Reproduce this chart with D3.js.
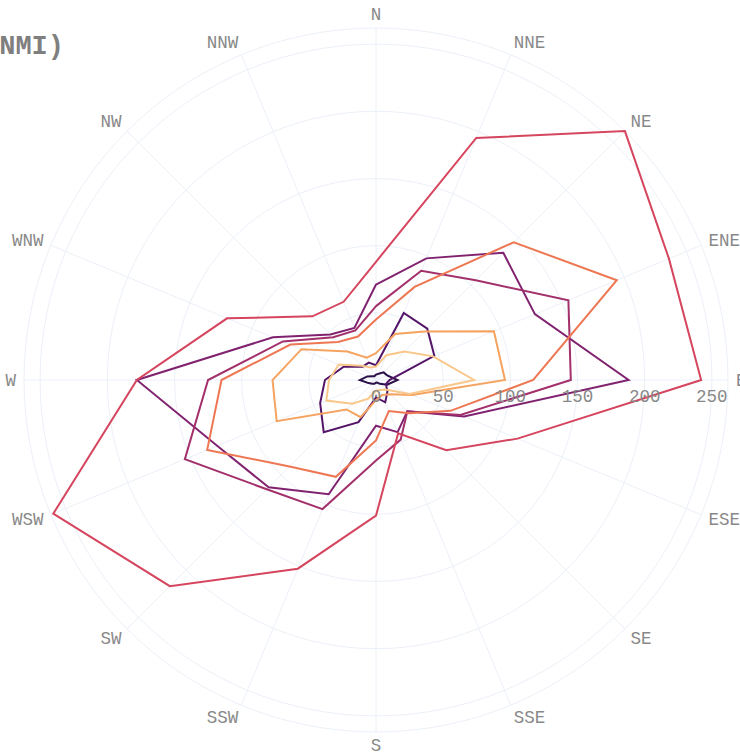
<!DOCTYPE html>
<html><head><meta charset="utf-8">
<script src="https://cdn.jsdelivr.net/npm/d3@7"></script>
<style>body{margin:0;background:#fff}svg{display:block}</style>
</head><body><svg id="chart" width="740" height="755"></svg>
<script>
const directions = ["N","NNE","NE","ENE","E","ESE","SE","SSE","S","SSW","SW","WSW","W","WNW","NW","NNW"];
const radialTicks = [0,50,100,150,200,250];
const seriesNames = ["0-1","1-2","2-3","3-4","4-5","5-6","6-7","7+"];
const seriesColors = ["#2a1149","#541568","#80226f","#a3306b","#d6455e","#ee7753","#f5a360","#f9c78a"];
const s1 = [4, 5, 8, 9, 16, 9, 4, 2, 2, 3, 4, 6, 12, 7, 4, 3];
const s2 = [11, 54, 54, 47, 10, 8, 12, 18, 13, 34, 55, 45, 38, 26, 14, 14];
const s3 = [71, 98, 134, 128, 188, 71, 33, 42, 34, 92, 113, 128, 178, 83, 48, 42];
const s4 = [55, 88, 105, 155, 145, 68, 33, 48, 60, 104, 115, 154, 125, 75, 45, 40];
const s5 = [88, 195, 262, 236, 242, 114, 74, 43, 101, 152, 217, 260, 178, 120, 67, 63];
const s6 = [45, 75, 145, 194, 117, 60, 35, 25, 45, 78, 91, 136, 115, 69, 40, 35];
const s7 = [20, 37, 51, 95, 96, 29, 15, 12, 15, 30, 31, 80, 77, 60, 30, 18];
const s8 = [10, 20, 30, 46, 73, 27, 10, 8, 8, 15, 25, 40, 35, 30, 15, 10];
const allSeries = [s1, s2, s3, s4, s5, s6, s7, s8];
const radialMax = 262;
const titleText = "Wind Rose (NMI)";

const svg = d3.select("#chart");
const cx = 376, cy = 380, R = 352;
const FONT = "'Liberation Mono', 'DejaVu Sans Mono', monospace";
const gridColor = "#ebf0f8";
const textColor = "#888888";

const r = d3.scaleLinear().domain([0, radialMax]).range([0, R]);
const ang = d3.scalePoint().domain(directions).range([0, 2 * Math.PI * (15 / 16)]);

const g = svg.append("g").attr("transform", `translate(${cx},${cy})`);

g.selectAll("circle.grid").data(radialTicks.filter(d => d > 0).concat([radialMax]))
  .join("circle").attr("class", "grid")
  .attr("r", d => r(d)).attr("fill", "none")
  .attr("stroke", gridColor).attr("stroke-width", 1);

g.selectAll("line.spoke").data(directions).join("line").attr("class", "spoke")
  .attr("x1", 0).attr("y1", 0)
  .attr("x2", d => R * Math.sin(ang(d)))
  .attr("y2", d => -R * Math.cos(ang(d)))
  .attr("stroke", gridColor).attr("stroke-width", 1);

const line = d3.lineRadial()
  .angle((d, i) => ang(directions[i]))
  .radius(d => r(d))
  .curve(d3.curveLinearClosed);

g.selectAll("path.series").data(allSeries).join("path").attr("class", "series")
  .attr("d", d => line(d))
  .attr("fill", "none")
  .attr("stroke", (d, i) => seriesColors[i])
  .attr("stroke-width", 2)
  .attr("stroke-linejoin", "miter");

g.selectAll("text.rtick").data(radialTicks).join("text").attr("class", "rtick")
  .attr("x", d => r(d)).attr("y", 22)
  .attr("text-anchor", "middle")
  .attr("font-family", FONT).attr("font-size", 17.5)
  .attr("fill", textColor)
  .text(d => d);

const labR = R + 8;
g.selectAll("text.atick").data(directions).join("text").attr("class", "atick")
  .attr("x", d => labR * Math.sin(ang(d)))
  .attr("y", d => -labR * Math.cos(ang(d)) + 5.5 * (1 - Math.cos(ang(d))))
  .attr("text-anchor", d => {
    const s = Math.sin(ang(d));
    return Math.abs(s) < 0.1 ? "middle" : (s > 0 ? "start" : "end");
  })
  .attr("font-family", FONT).attr("font-size", 17.5)
  .attr("fill", textColor)
  .text(d => d);

svg.append("text").attr("x", 64).attr("y", 54)
  .attr("text-anchor", "end")
  .attr("font-family", FONT).attr("font-size", 27).attr("font-weight", "bold")
  .attr("fill", "#7f7f7f")
  .text(titleText);
</script></body></html>
